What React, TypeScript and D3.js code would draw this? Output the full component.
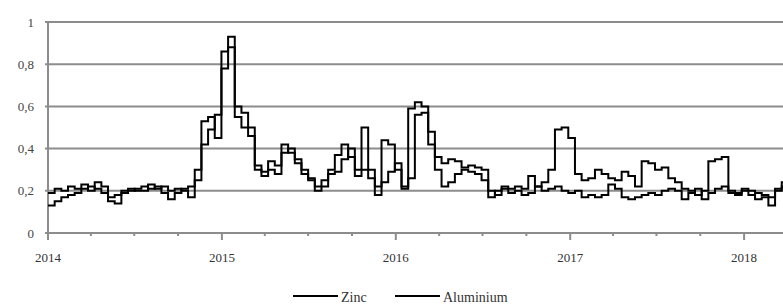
import React, { useRef, useEffect } from 'react';
import * as d3 from 'd3';

// biweekly readings from 2014-01-01
const startDate = new Date(2014, 0, 1);
const stepDays = 14;

const zinc = [
  0.13, 0.15, 0.17, 0.18, 0.19, 0.21, 0.22, 0.21, 0.19, 0.17,
  0.18, 0.2, 0.2, 0.21, 0.22, 0.21, 0.22, 0.19, 0.16, 0.19,
  0.21, 0.22, 0.3, 0.53, 0.55, 0.45, 0.86, 0.93, 0.6, 0.57,
  0.5, 0.32, 0.29, 0.34, 0.32, 0.42, 0.38, 0.35, 0.3, 0.25,
  0.2, 0.22, 0.3, 0.37, 0.42, 0.36, 0.3, 0.5, 0.3, 0.18,
  0.44, 0.42, 0.3, 0.22, 0.59, 0.62, 0.6, 0.42, 0.3, 0.22,
  0.24, 0.28, 0.3, 0.29, 0.28, 0.25, 0.17, 0.2, 0.21, 0.19,
  0.2, 0.18, 0.19, 0.22, 0.24, 0.3, 0.49, 0.5, 0.45, 0.28,
  0.25, 0.26, 0.3, 0.28, 0.26, 0.25, 0.29, 0.27, 0.22, 0.34,
  0.33, 0.3, 0.31, 0.26, 0.24, 0.21, 0.2, 0.18, 0.2, 0.34,
  0.35, 0.36, 0.2, 0.19, 0.2, 0.18, 0.16, 0.17, 0.13, 0.2,
  0.22, 0.23,
];

const aluminium = [
  0.19, 0.21, 0.2, 0.22, 0.21, 0.23, 0.2, 0.24, 0.22, 0.15,
  0.14, 0.19, 0.21, 0.2, 0.2, 0.23, 0.21, 0.22, 0.2, 0.21,
  0.2, 0.17, 0.25, 0.42, 0.49, 0.56, 0.78, 0.88, 0.55, 0.5,
  0.46, 0.3, 0.27, 0.3, 0.28, 0.38, 0.4, 0.33, 0.28, 0.26,
  0.22, 0.25, 0.28, 0.29, 0.35, 0.4, 0.27, 0.3, 0.26, 0.22,
  0.24, 0.29, 0.33, 0.21, 0.26, 0.56, 0.57, 0.48, 0.36, 0.33,
  0.35, 0.34, 0.31, 0.32, 0.31, 0.3, 0.2, 0.18, 0.22, 0.21,
  0.22, 0.21, 0.27, 0.22, 0.2, 0.21, 0.22, 0.2, 0.19, 0.2,
  0.17, 0.18, 0.17, 0.18, 0.23, 0.21, 0.17, 0.16, 0.17, 0.18,
  0.19, 0.18, 0.2, 0.21, 0.2, 0.16, 0.19, 0.21, 0.16, 0.19,
  0.21, 0.22, 0.19, 0.18, 0.21, 0.2, 0.19, 0.18, 0.17, 0.21,
  0.24, 0.22,
];

const yTicks = [0, 0.2, 0.4, 0.6, 0.8, 1];
const yearTicks = [2014, 2015, 2016, 2017, 2018];

const FONT = "'Liberation Serif', 'Times New Roman', serif";

const App = () => {
  const svgRef = useRef(null);

  useEffect(() => {
    const svg = d3.select(svgRef.current);
    const width = 783;
    const left = 48;
    const top = 22;
    const bottom = 233;
    const yearPx = 174;

    svg.selectAll('*').remove();

    const x = d3
      .scaleTime()
      .domain([new Date(2014, 0, 1), new Date(2019, 0, 1)])
      .range([left, left + yearPx * 5]);
    const y = d3.scaleLinear().domain([0, 1]).range([bottom, top]);

    const fmt = (v) => (v === 0 || v === 1 ? String(v) : String(v).replace('.', ','));

    // gridlines
    svg
      .append('g')
      .selectAll('line')
      .data(yTicks)
      .enter()
      .append('line')
      .attr('x1', left - 3)
      .attr('x2', width)
      .attr('y1', (d) => y(d))
      .attr('y2', (d) => y(d))
      .attr('stroke', '#8c8c8c')
      .attr('stroke-width', 2);

    // y axis line
    svg
      .append('line')
      .attr('x1', left)
      .attr('x2', left)
      .attr('y1', top)
      .attr('y2', bottom + 3)
      .attr('stroke', '#8c8c8c')
      .attr('stroke-width', 2);

    // y labels
    svg
      .append('g')
      .selectAll('text')
      .data(yTicks)
      .enter()
      .append('text')
      .attr('x', 34)
      .attr('y', (d) => y(d))
      .attr('dy', '0.35em')
      .attr('text-anchor', 'end')
      .style('font-family', FONT)
      .attr('font-size', 13)
      .attr('fill', '#444')
      .text(fmt);

    // quarterly ticks on x axis
    const quarters = d3.timeMonth.every(3).range(new Date(2014, 0, 1), new Date(2019, 0, 1));
    svg
      .append('g')
      .selectAll('line')
      .data(quarters)
      .enter()
      .append('line')
      .attr('x1', (d) => x(d))
      .attr('x2', (d) => x(d))
      .attr('y1', bottom)
      .attr('y2', (d) => (d.getMonth() === 0 ? bottom + 7 : bottom + 3))
      .attr('stroke', '#8c8c8c')
      .attr('stroke-width', 2);

    // year labels
    svg
      .append('g')
      .selectAll('text')
      .data(yearTicks)
      .enter()
      .append('text')
      .attr('x', (d) => x(new Date(d, 0, 1)))
      .attr('y', 262)
      .attr('text-anchor', 'middle')
      .style('font-family', FONT)
      .attr('font-size', 13)
      .attr('fill', '#333')
      .text((d) => d);

    const line = d3
      .line()
      .x((d, i) => x(d3.timeDay.offset(startDate, i * stepDays)))
      .y((d) => y(d))
      .curve(d3.curveStepAfter);

    [aluminium, zinc].forEach((series) => {
      svg
        .append('path')
        .datum(series)
        .attr('d', line)
        .attr('fill', 'none')
        .attr('stroke', '#000')
        .attr('stroke-width', 2)
        .attr('stroke-linejoin', 'miter');
    });

    // legend
    const legend = [
      { name: 'Zinc', x: 293 },
      { name: 'Aluminium', x: 395 },
    ];
    const lg = svg.append('g');
    legend.forEach((l) => {
      lg.append('line')
        .attr('x1', l.x)
        .attr('x2', l.x + 45)
        .attr('y1', 296)
        .attr('y2', 296)
        .attr('stroke', '#000')
        .attr('stroke-width', 2);
      lg.append('text')
        .attr('x', l.x + 48)
        .attr('y', 302)
        .style('font-family', FONT)
        .attr('font-size', 14)
        .attr('fill', '#333')
        .text(l.name);
    });
  }, []);

  return (
    <svg
      ref={svgRef}
      width={783}
      height={304}
      style={{ position: 'absolute', left: 0, top: 0, background: '#fff' }}
    />
  );
};

export default App;
